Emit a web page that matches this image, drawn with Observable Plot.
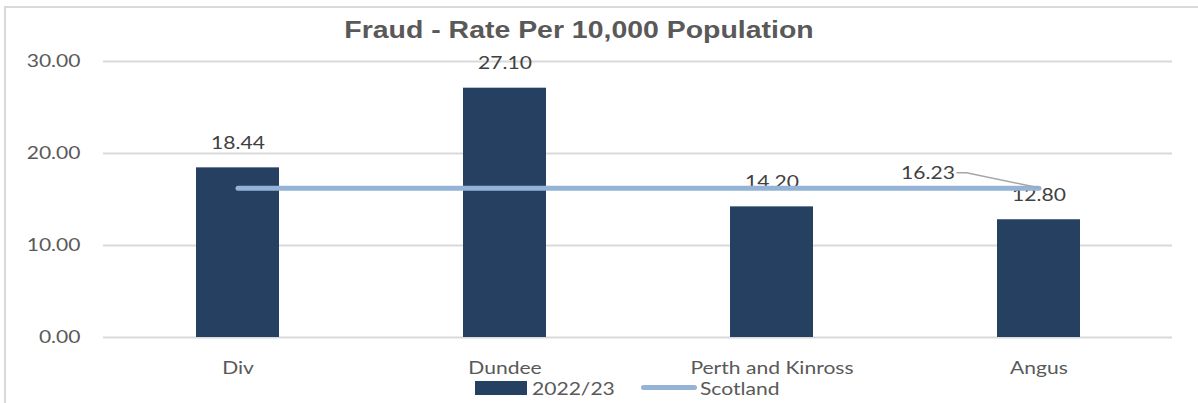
<!DOCTYPE html>
<html>
<head>
<meta charset="utf-8">
<script src="https://cdn.jsdelivr.net/npm/d3@7"></script>
<script src="https://cdn.jsdelivr.net/npm/@observablehq/plot@0.6"></script>
<style>
  html, body { margin: 0; padding: 0; background: #fff; }
  #wrap { position: relative; width: 1198px; height: 403px; overflow: hidden; font-family: Lato, "Noto Sans", sans-serif; color: #595959; }
  #frame { position: absolute; left: 4px; top: 6px; width: 1400px; height: 600px; border: 2px solid #d9d9d9; box-sizing: border-box; }
  #title { position: absolute; top: 16px; left: 0; width: 1158px; text-align: center; font-family: "Liberation Sans", Arial, sans-serif; font-weight: bold; font-size: 23.5px; color: #595959; line-height: 28px; transform: scaleX(1.21); transform-origin: 579px 0; white-space: nowrap; }
  #chart { position: absolute; left: 0; top: 0; }
  #legend { position: absolute; top: 376px; left: 0; width: 1198px; height: 26px; font-size: 18px; }
  .sw-bar { position: absolute; left: 475px; top: 5px; width: 52px; height: 14px; background: #264061; }
  .sw-line { position: absolute; left: 641px; top: 9px; width: 56px; height: 5px; border-radius: 3px; background: #95b3d7; }
  .lt { position: absolute; top: 0; line-height: 24px; transform: scaleX(1.17); transform-origin: 0 0; white-space: nowrap; }
</style>
</head>
<body>
<div id="wrap">
  <div id="frame"></div>
  <div id="chart"></div>
  <div id="title">Fraud - Rate Per 10,000 Population</div>
  <div id="legend">
    <div class="sw-bar"></div><div class="lt" style="left:532px">2022/23</div>
    <div class="sw-line"></div><div class="lt" style="left:700px">Scotland</div>
  </div>
</div>
<script>
const categories = ["Div", "Dundee", "Perth and Kinross", "Angus"];
const rates = [18.44, 27.10, 14.20, 12.80];
const scotland = [16.23, 16.23, 16.23, 16.23];
const yTicks = [0, 10, 20, 30];

const bars = categories.map((c, i) => ({category: c, value: rates[i]}));
const scot = categories.map((c, i) => ({category: c, value: scotland[i]}));
const scotLabel = [scot[scot.length - 1]];

const leader = (index, scales, values, dims, context) => {
  const d = scotLabel[0];
  const xc = scales.x(d.category) + scales.x.bandwidth() / 2;
  const y = scales.y(d.value);
  const g = d3.create("svg:g");
  g.append("path")
    .attr("d", `M${xc - 82},${y - 15} L${xc - 72},${y - 15} L${xc},${y}`)
    .attr("fill", "none").attr("stroke", "#a6a6a6").attr("stroke-width", 1.5);
  return g.node();
};

const chart = Plot.plot({
  width: 1198,
  height: 403,
  marginLeft: 103,
  marginRight: 26,
  marginTop: 61,
  marginBottom: 66,
  style: {fontFamily: "Lato, 'Noto Sans', sans-serif", fontSize: "18px", color: "#595959", background: "transparent"},
  x: {domain: categories, paddingInner: 0.69, paddingOuter: 0.345, label: null},
  y: {domain: [0, 30], label: null},
  marks: [
    Plot.ruleY(yTicks, {stroke: "#d9d9d9", strokeWidth: 2}),
    Plot.axisY({ticks: yTicks, tickFormat: d => d.toFixed(2), tickSize: 0, tickPadding: 23, fill: "#595959", fontSize: 18}),
    Plot.axisX({tickSize: 0, tickPadding: 24, fill: "#595959", fontSize: 18}),
    Plot.barY(bars, {x: "category", y: "value", fill: "#264061"}),
    Plot.text(bars, {x: "category", y: "value", text: d => d.value.toFixed(2), dy: -25, fill: "#404040", fontSize: 18}),
    Plot.line(scot, {x: "category", y: "value", stroke: "#95b3d7", strokeWidth: 5, strokeLinecap: "round"}),
    leader,
    Plot.text(scotLabel, {x: "category", y: "value", text: d => d.value.toFixed(2), dx: -111, dy: -15, fill: "#404040", fontSize: 18})
  ]
});
document.getElementById("chart").appendChild(chart);
// Reference text is horizontally stretched; widen glyphs to match.
chart.querySelectorAll("text").forEach(t => {
  const len = t.getComputedTextLength();
  if (len > 0) {
    t.setAttribute("textLength", (len * 1.17).toFixed(1));
    t.setAttribute("lengthAdjust", "spacingAndGlyphs");
  }
});
</script>
</body>
</html>
